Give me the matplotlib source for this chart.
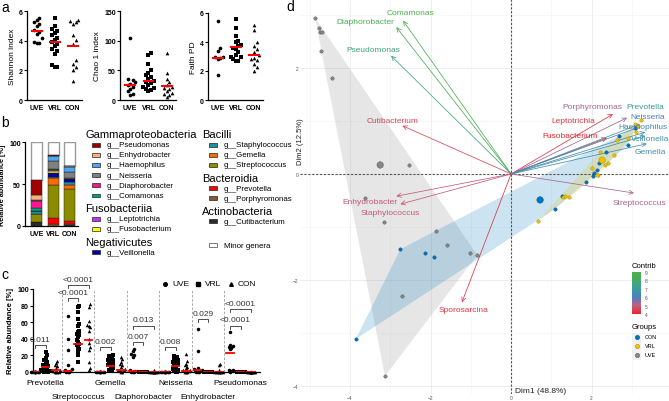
import numpy as np
import matplotlib
matplotlib.use('Agg')
import matplotlib.pyplot as plt
from matplotlib.patches import Rectangle, Polygon
from matplotlib.lines import Line2D
from matplotlib.colors import LinearSegmentedColormap, Normalize
from matplotlib.cm import ScalarMappable

plt.rcParams['font.family'] = ['Liberation Sans', 'DejaVu Sans']

# ---------------------------------------------------------------
# data
# ---------------------------------------------------------------
groups = ['UVE', 'VRL', 'CON']

# a) alpha diversity
shannon_uve = [5.55, 5.4, 5.25, 5.1, 5.0, 4.75, 4.6, 4.45, 4.2, 3.9, 3.85, 3.85]
shannon_vrl = [5.5, 5.0, 4.8, 4.65, 4.55, 4.35, 4.2, 4.05, 3.9, 3.8, 3.65, 3.45, 3.3, 3.1, 2.35, 2.2, 2.2]
shannon_con = [5.4, 5.3, 5.25, 5.1, 4.35, 4.05, 3.75, 2.7, 2.4, 2.2, 2.0, 1.3]
shannon_med = [4.65, 3.9, 3.65]

chao_uve = [105, 35, 33, 30, 27, 25, 22, 18, 15, 10, 8]
chao_vrl = [80, 76, 60, 50, 45, 42, 38, 35, 32, 30, 28, 25, 22, 20, 18, 17, 15]
chao_con = [80, 45, 35, 30, 25, 22, 20, 18, 15, 12, 10, 8, 5]
chao_med = [25, 32, 24]

faith_uve = [5.45, 3.6, 3.4, 3.0, 2.95, 2.9, 2.8, 1.75]
faith_vrl = [5.6, 5.0, 4.4, 4.1, 4.0, 3.8, 3.7, 3.6, 3.5, 3.3, 3.1, 3.0, 2.95, 2.8, 2.7, 2.7]
faith_con = [5.2, 4.8, 4.0, 3.7, 3.5, 3.3, 3.1, 2.9, 2.8, 2.75, 2.5, 2.3, 2.0]
faith_med = [2.9, 3.65, 3.1]

# b) relative abundance, stacked bottom -> top
stack_genera = ['Cutibacterium', 'Porphyromonas', 'Prevotella', 'Streptococcus', 'Gemella',
                'Staphylococcus', 'Veillonella', 'Fusobacterium', 'Leptotrichia', 'Comamonas',
                'Diaphorobacter', 'Neisseria', 'Haemophilus', 'Enhydrobacter', 'Pseudomonas',
                'Minor genera']
ab_uve = [4.7, 0.2, 0.2, 9.4, 0.3, 2.5, 0.3, 0.2, 0.2, 3.5, 8.5, 0.5, 0.5, 6.0, 18.0, 45.0]
ab_vrl = [0.5, 1.5, 7.0, 39.5, 9.0, 0.5, 5.0, 2.5, 1.5, 0.3, 0.3, 9.5, 6.3, 0.3, 0.3, 16.0]
ab_con = [0.8, 1.5, 3.5, 38.0, 5.0, 3.5, 3.5, 0.8, 0.5, 0.3, 0.3, 7.0, 6.0, 1.0, 0.3, 28.0]
genus_colors = {
    'Cutibacterium': '#2b2b2b', 'Porphyromonas': '#8b5a2b', 'Prevotella': '#ff0000',
    'Streptococcus': '#8c8c00', 'Gemella': '#ff6a00', 'Staphylococcus': '#1f8fa8',
    'Veillonella': '#0000a8', 'Fusobacterium': '#ffff00', 'Leptotrichia': '#c030ff',
    'Comamonas': '#00a07a', 'Diaphorobacter': '#ff1493', 'Neisseria': '#808080',
    'Haemophilus': '#4ea6f5', 'Enhydrobacter': '#f5b27a', 'Pseudomonas': '#a00000',
    'Minor genera': '#ffffff'}
legend_col1 = [('Gammaproteobacteria', ['Pseudomonas', 'Enhydrobacter', 'Haemophilus',
                                        'Neisseria', 'Diaphorobacter', 'Comamonas']),
               ('Fusobacteriia', ['Leptotrichia', 'Fusobacterium']),
               ('Negativicutes', ['Veillonella'])]
legend_col2 = [('Bacilli', ['Staphylococcus', 'Gemella', 'Streptococcus']),
               ('Bacteroidia', ['Prevotella', 'Porphyromonas']),
               ('Actinobacteria', ['Cutibacterium'])]

# c) per-genus abundance (UVE, VRL, CON)
c_genera = ['Prevotella', 'Streptococcus', 'Gemella', 'Diaphorobacter',
            'Neisseria', 'Enhydrobacter', 'Pseudomonas']
prevotella = ([0, 0, 0, 0, 0, 0, 0, 0, 0, 0],
              [24, 20, 17, 14, 12, 10, 8, 7, 6, 5, 4, 3, 2, 1.5, 1, 0.5, 0, 0, 0],
              [13, 11, 9, 7, 5, 3, 2, 1, 0.5, 0, 0, 0])
streptococcus = ([67, 40, 27, 9, 4, 2, 1, 0.5, 0, 0],
                 [80, 78, 72, 64, 58, 55, 50, 48, 46, 44, 42, 38, 36, 34, 32, 30, 28, 25, 20, 12],
                 [82, 78, 62, 57, 55, 54, 50, 40, 35, 30, 27, 12, 5, 2])
gemella = ([0, 0, 0, 0, 0, 0, 0, 0, 0, 0],
           [20, 19, 18, 16, 15, 14, 13, 12, 11, 10, 9, 8, 7, 6, 5, 3, 2, 1],
           [18, 16, 12, 10, 8, 6, 4, 3, 2, 1, 0, 0])
diaphorobacter = ([28, 25, 22, 20, 18, 3, 1, 0, 0, 0],
                  [0, 0, 0, 0, 0, 0, 0, 0, 0, 0, 0, 0, 0, 0, 0, 0, 0, 0, 0],
                  [2, 1, 0.5, 0, 0, 0, 0, 0, 0, 0, 0, 0])
neisseria = ([0, 0, 0, 0, 0, 0, 0, 0, 0, 0],
             [19, 18, 17, 15, 14, 13, 12, 11, 10, 9, 8, 6, 4, 2, 1, 0.5, 0],
             [22, 13, 10, 8, 6, 5, 3, 2, 1, 0.5, 0, 0])
enhydrobacter = ([52, 25, 5, 4, 3, 2, 1, 0.5, 0, 0],
                 [0, 0, 0, 0, 0, 0, 0, 0, 0, 0, 0, 0, 0, 0, 0, 0, 0, 0, 0],
                 [10, 8, 3, 1, 0, 0, 0, 0, 0, 0, 0, 0])
pseudomonas = ([48, 33, 31, 30, 29, 28, 3, 2, 1, 0],
               [0, 0, 0, 0, 0, 0, 0, 0, 0, 0, 0, 0, 0, 0, 0, 0, 0, 0, 0],
               [0, 0, 0, 0, 0, 0, 0, 0, 0, 0, 0, 0])
c_data = [prevotella, streptococcus, gemella, diaphorobacter, neisseria, enhydrobacter, pseudomonas]
c_medians = [[0, 5.5, 3], [1, 34, 38], [0, 7.5, 3], [1, 0, 0], [0, 7.5, 1], [3, 0, 0], [23, 0, 0]]
# (genus index, compared group, bracket height, p-value)
c_pvalues = [(0, 1, 33, '0.011'), (1, 1, 89, '<0.0001'), (1, 2, 105, '<0.0001'),
             (2, 1, 30, '0.002'), (3, 1, 36, '0.007'), (3, 2, 56, '0.013'),
             (4, 1, 30, '0.008'), (5, 1, 64, '0.029'), (6, 1, 56, '<0.0001'),
             (6, 2, 76, '<0.0001')]

# d) PCA biplot
uve_x = [-4.86, -4.76, -4.74, -4.69, -4.71, -4.44, -2.53, -3.62, -3.15, -1.86, -1.59, -1.02, -0.84, -2.70, -3.13]
uve_y = [2.94, 2.75, 2.68, 2.68, 2.32, 1.81, 0.17, -0.45, -0.91, -1.08, -1.34, -1.49, -1.53, -2.30, -3.81]
con_x = [-2.75, -2.13, -1.91, -3.85, 1.09, 1.27, 1.86, 2.03, 2.13, 2.18, 3.08, 2.90, 2.68, 2.36, 2.06]
con_y = [-1.42, -1.49, -1.57, -3.11, -0.66, -0.42, -0.15, -0.04, 0.08, 0.21, 0.87, 0.55, 0.72, 0.42, 0.02]
vrl_x = [0.67, 1.29, 1.34, 1.44, 2.01, 2.16, 2.33, 3.08, 3.15, 3.10, 2.90, 2.63, 2.21, 2.13, 3.23, 2.56, 2.40]
vrl_y = [-0.89, -0.43, -0.42, -0.43, 0.11, -0.02, 0.17, 0.94, 0.91, 0.79, 0.68, 0.64, 0.42, -0.02, 1.02, 0.36, 0.21]
centroid_x = [0.72, 2.26, -3.25]   # CON, VRL, UVE
centroid_y = [-0.49, 0.26, 0.17]

var_names = ['Comamonas', 'Diaphorobacter', 'Pseudomonas', 'Cutibacterium', 'Enhydrobacter',
             'Staphylococcus', 'Sporosarcina', 'Porphyromonas', 'Leptotrichia', 'Fusobacterium',
             'Prevotella', 'Neisseria', 'Haemophilus', 'Veillonella', 'Gemella', 'Streptococcus']
var_x = [-2.68, -2.85, -2.98, -2.70, -2.85, -2.75, -1.22, 2.88, 2.53, 2.38,
         3.20, 3.20, 3.33, 3.33, 3.37, 3.05]
var_y = [2.89, 2.77, 2.23, 0.91, -0.42, -0.57, -2.42, 1.06, 1.13, 0.68,
         0.94, 0.89, 0.79, 0.72, 0.57, -0.36]
var_contrib = [9.0, 8.6, 7.6, 4.6, 4.9, 4.9, 4.3, 5.3, 4.3, 4.0,
               7.0, 6.0, 6.3, 6.7, 6.5, 5.2]

# ---------------------------------------------------------------
# layout helpers (pixel based)
# ---------------------------------------------------------------
W, H = 669, 402
fig = plt.figure(figsize=(W / 100, H / 100), dpi=100)


def box(x0, y0, x1, y1):
    return [x0 / W, 1 - y1 / H, (x1 - x0) / W, (y1 - y0) / H]


def fp(x, y):
    return x / W, 1 - y / H


def swarm(vals, dy, w, cap):
    offs = np.zeros(len(vals))
    placed = []
    for i in np.argsort(vals, kind='stable'):
        y = vals[i]
        best = 0.0
        for k in range(40):
            c = ((k + 1) // 2) * w * (1 if k % 2 else -1)
            if abs(c) > cap:
                break
            if all(abs(c - px) >= w * 0.9 or abs(y - py) >= dy for px, py in placed):
                best = c
                break
        placed.append((best, y))
        offs[i] = best
    return offs


def prism_axes(ax):
    for s in ['top', 'right']:
        ax.spines[s].set_visible(False)
    for s in ['left', 'bottom']:
        ax.spines[s].set_linewidth(0.9)
    ax.tick_params(axis='y', labelsize=5, length=2, width=0.8, pad=1)
    ax.tick_params(axis='x', labelsize=5, length=0, pad=3)
    for lbl in ax.get_xticklabels() + ax.get_yticklabels():
        lbl.set_fontweight('bold')


markers = ['o', 's', '^']

# ---------------------------------------------------------------
# a
# ---------------------------------------------------------------
panels_a = [
    (box(27, 12, 82, 101), [shannon_uve, shannon_vrl, shannon_con], shannon_med, 6, [0, 2, 4, 6], 'Shannon index'),
    (box(120, 12, 176, 101), [chao_uve, chao_vrl, chao_con], chao_med, 150, [0, 50, 100, 150], 'Chao 1 index'),
    (box(208, 14, 263, 101), [faith_uve, faith_vrl, faith_con], faith_med, 6, [0, 2, 4, 6], 'Faith PD'),
]
for rect, data, med, top, ticks, label in panels_a:
    ax = fig.add_axes(rect)
    for i, vals in enumerate(data):
        vals = np.array(vals, dtype=float)
        off = swarm(vals, top * 0.06, 0.14, 0.42)
        ax.scatter(i + off, vals, marker=markers[i], s=7, c='black', lw=0, zorder=3, clip_on=False)
        ax.plot([i - 0.27, i + 0.27], [med[i], med[i]], color='red', lw=1.5, zorder=4)
    ax.set_xlim(-0.55, 2.5)
    ax.set_ylim(0, top)
    ax.set_yticks(ticks)
    ax.set_xticks([0, 1, 2], groups)
    ax.set_ylabel(label, fontsize=6, labelpad=2)
    prism_axes(ax)

# ---------------------------------------------------------------
# b
# ---------------------------------------------------------------
ax_b = fig.add_axes(box(25, 143, 78, 227))
bottom = np.zeros(3)
for j, g in enumerate(stack_genera):
    vals = np.array([ab_uve[j], ab_vrl[j], ab_con[j]])
    if g == 'Minor genera':
        ax_b.bar([0, 1, 2], vals, 0.65, bottom=bottom, color='white', edgecolor='#9a9a9a', lw=1.0, zorder=2)
    else:
        ax_b.bar([0, 1, 2], vals, 0.65, bottom=bottom, color=genus_colors[g], edgecolor='#222222', lw=0.35, zorder=3)
    bottom += vals
ax_b.set_xlim(-0.68, 2.48)
ax_b.set_ylim(0, 100)
ax_b.set_yticks([0, 50, 100])
ax_b.set_xticks([0, 1, 2], groups)
ax_b.set_ylabel('Relative abundance [%]', fontsize=5.2, fontweight='bold', labelpad=2)
prism_axes(ax_b)


def legend_column(x, entries, y):
    for head, items in entries:
        fig.text(*fp(x, y), head, fontsize=8, va='center', ha='left')
        y += 10.5
        for g in items:
            fig.add_artist(Rectangle(fp(x + 7, y + 2), 8 / W, 4 / H, transform=fig.transFigure,
                                     facecolor=genus_colors[g], edgecolor='#222222', lw=0.5))
            fig.text(*fp(x + 22, y), 'g__' + g, fontsize=5.7, va='center', ha='left')
            y += 10.2
        y += 2.5
    return y


legend_column(85, legend_col1, 135)
y_end = legend_column(202, legend_col2, 135)
fig.add_artist(Rectangle(fp(209, y_end + 13), 8 / W, 4 / H, transform=fig.transFigure,
                         facecolor='white', edgecolor='#777777', lw=0.7))
fig.text(*fp(224, y_end + 11), 'Minor genera', fontsize=5.7, va='center', ha='left')

# ---------------------------------------------------------------
# c
# ---------------------------------------------------------------
ax_c = fig.add_axes(box(33, 290, 260, 373))
step = 3.1
for g, trip in enumerate(c_data):
    base = g * step
    for k, vals in enumerate(trip):
        vals = np.array(vals, dtype=float)
        off = swarm(vals, 4.5, 0.13, 0.42)
        ax_c.scatter(base + k + off, vals, marker=markers[k], s=6.5, c='black', lw=0, zorder=3, clip_on=False)
        m = c_medians[g][k]
        ax_c.plot([base + k - 0.35, base + k + 0.35], [m, m], color='red', lw=1.3, zorder=4)
    if g < len(c_data) - 1:
        ax_c.vlines(base + 2.55, 0, 100, colors='#9a9a9a', linestyles=(0, (3, 2)), lw=0.6)
    row_y = -13 if g % 2 == 0 else -29
    ax_c.text(base + 1, row_y, c_genera[g], fontsize=6, ha='center', va='center', clip_on=False)

for g, k, h, txt in c_pvalues:
    x1, x2 = g * step, g * step + k
    ax_c.plot([x1, x1, x2, x2], [h - 4, h, h, h - 4], color='#333333', lw=0.6, clip_on=False)
    ax_c.text((x1 + x2) / 2, h + 2.5, txt, fontsize=6, ha='center', va='bottom', clip_on=False,
              color='#333333')

ax_c.set_xlim(-0.2, 6 * step + 2 + 0.85)
ax_c.set_ylim(0, 100)
ax_c.set_yticks(np.arange(0, 101, 20))
ax_c.set_xticks([])
ax_c.set_ylabel('Relative abundance [%]', fontsize=5.5, fontweight='bold', labelpad=2)
prism_axes(ax_c)

for mk, gx, lab in zip(markers, [165, 198, 231], groups):
    fig.add_artist(Line2D([gx / W], [1 - 285 / H], marker=mk, color='black', markersize=2.6,
                          lw=0, transform=fig.transFigure))
    fig.text(*fp(gx + 7, 285), lab, fontsize=6, va='center', ha='left')

# ---------------------------------------------------------------
# d
# ---------------------------------------------------------------
ax_d = fig.add_axes(box(300, 0, 669, 395))
ax_d.set_xlim(-5.24, 3.92)
ax_d.set_ylim(-4.15, 3.30)
ax_d.set_xticks([-4, -2, 0, 2])
ax_d.set_yticks([-4, -2, 0, 2])
ax_d.set_xticks([-5, -3, -1, 1, 3], minor=True)
ax_d.set_yticks([-3, -1, 1, 3], minor=True)
ax_d.grid(True, which='major', color='#ebebeb', lw=0.6)
ax_d.grid(True, which='minor', color='#f3f3f3', lw=0.4)
ax_d.set_axisbelow(True)
ax_d.tick_params(which='both', length=0, labelsize=3.5, labelcolor='#555555', pad=1)
for s in ax_d.spines.values():
    s.set_visible(False)


def hull(xs, ys):
    pts = sorted(set(zip(xs, ys)))

    def cross(o, a, b):
        return (a[0] - o[0]) * (b[1] - o[1]) - (a[1] - o[1]) * (b[0] - o[0])
    lower, upper = [], []
    for p in pts:
        while len(lower) >= 2 and cross(lower[-2], lower[-1], p) <= 0:
            lower.pop()
        lower.append(p)
    for p in reversed(pts):
        while len(upper) >= 2 and cross(upper[-2], upper[-1], p) <= 0:
            upper.pop()
        upper.append(p)
    return lower[:-1] + upper[:-1]


grp_colors = {'CON': '#0073C2', 'VRL': '#EFC000', 'UVE': '#868686'}
grp_edges = {'CON': '#00508a', 'VRL': '#a88700', 'UVE': '#555555'}
grp_pts = [('UVE', uve_x, uve_y), ('CON', con_x, con_y), ('VRL', vrl_x, vrl_y)]
for name, xs, ys in grp_pts:
    ax_d.add_patch(Polygon(hull(xs, ys), closed=True, facecolor=grp_colors[name],
                           alpha=0.2, edgecolor='none', zorder=1))

ax_d.axhline(0, color='#555555', lw=0.8, ls=(0, (2, 1.5)), zorder=2)
ax_d.axvline(0, color='#555555', lw=0.8, ls=(0, (2, 1.5)), zorder=2)

cmap = LinearSegmentedColormap.from_list(
    'contrib', [(0.0, '#e8262b'), (0.2, '#c0607f'), (0.4, '#4a7fc0'),
                (0.6, '#3a9c9c'), (0.8, '#45a866'), (1.0, '#4caf4a')])
norm = Normalize(4, 9)

# label offsets from arrow tips (layout only)
lbl_dx = [0.17, -0.77, -0.44, -0.25, -0.65, -0.25, 0.03, -0.87, -0.99, -0.92,
          0.13, 0.20, -0.05, 0.12, 0.08, 0.13]
lbl_dy = [0.15, 0.10, 0.11, 0.09, -0.09, -0.15, -0.13, 0.22, -0.13, 0.04,
          0.34, 0.20, 0.10, -0.06, -0.14, -0.17]
for name, x, y, c, dx, dy in zip(var_names, var_x, var_y, var_contrib, lbl_dx, lbl_dy):
    col = cmap(norm(c))
    ax_d.annotate('', xy=(x, y), xytext=(0, 0), zorder=3,
                  arrowprops=dict(arrowstyle='->,head_length=0.3,head_width=0.15',
                                  color=col, lw=0.55, shrinkA=0, shrinkB=0))
    ax_d.text(x + dx, y + dy, name, color=col, fontsize=6, ha='center', va='center', zorder=5)

for name, xs, ys in grp_pts:
    ax_d.scatter(xs, ys, s=6, c=grp_colors[name], edgecolors=grp_edges[name], lw=0.3, zorder=4)
ax_d.scatter(centroid_x, centroid_y, s=22, c=[grp_colors['CON'], grp_colors['VRL'], grp_colors['UVE']],
             edgecolors=[grp_edges['CON'], grp_edges['VRL'], grp_edges['UVE']], lw=0.3, zorder=4)

fig.text(*fp(300, 142), 'Dim2 (12.5%)', fontsize=5.5, rotation=90, ha='center', va='center', color='#222222')
fig.text(*fp(515, 392), 'Dim1 (48.8%)', fontsize=6, ha='left', va='center', color='#222222')

# colour bar
cax = fig.add_axes(box(632, 273, 641, 315))
cb = fig.colorbar(ScalarMappable(norm=norm, cmap=cmap), cax=cax, ticks=[4, 5, 6, 7, 8, 9])
cb.outline.set_visible(False)
cax.tick_params(labelsize=3.5, length=1.5, width=0.4, color='white', labelcolor='#555555', pad=1)
fig.text(*fp(632, 267), 'Contrib', fontsize=5.5, ha='left', va='center')

# group legend
fig.text(*fp(632, 328), 'Groups', fontsize=5.5, ha='left', va='center')
for gy, name in zip([338, 347, 356], ['CON', 'VRL', 'UVE']):
    fig.add_artist(Rectangle(fp(632, gy + 4.5), 9 / W, 9 / H, transform=fig.transFigure,
                             facecolor='#f0f0f0', edgecolor='none'))
    fig.add_artist(Line2D([636.5 / W], [1 - gy / H], marker='o', markersize=3.2, lw=0,
                          color=grp_colors[name], markeredgecolor=grp_edges[name], markeredgewidth=0.3,
                          transform=fig.transFigure))
    fig.text(*fp(645, gy), name, fontsize=4, ha='left', va='center')

# panel letters
for letter, lx, ly in [('a', 1, 1), ('b', 1, 116), ('c', 1, 268), ('d', 286, 0)]:
    fig.text(*fp(lx, ly), letter, fontsize=10, ha='left', va='top')

fig.savefig('out.png', dpi=100)
